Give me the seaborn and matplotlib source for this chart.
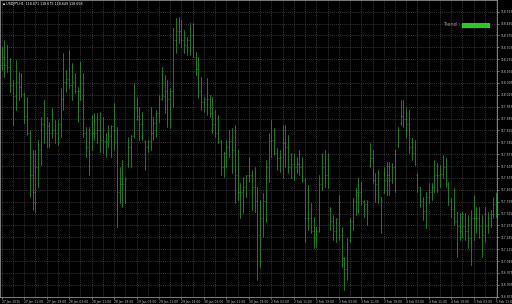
import numpy as np
import pandas as pd
import matplotlib
matplotlib.use("Agg")
import matplotlib.pyplot as plt
import seaborn as sns
from matplotlib.patches import Rectangle

symbol_header = "\u25aa USDJPY,H1  118.671 118.675 118.649 118.658"

highs = [118.309,118.348,118.319,118.240,118.112,118.230,118.162,118.152,118.034,118.014,
117.818,117.700,117.700,117.759,117.896,117.995,117.896,117.867,117.945,117.877,
117.877,118.063,118.270,118.171,118.289,118.211,118.152,118.073,118.220,118.152,
117.837,117.837,117.906,117.916,117.916,117.926,117.896,117.798,117.847,117.847,
117.975,117.837,117.601,117.641,117.543,117.778,117.788,118.093,118.014,117.955,
117.926,117.759,117.759,117.955,117.896,117.936,118.024,118.191,118.142,118.112,
118.063,118.417,118.476,118.486,118.466,118.407,118.368,118.446,118.446,118.279,
118.250,118.132,118.014,118.122,118.024,118.014,117.936,117.906,117.759,117.690,
117.759,117.818,117.828,117.847,117.700,117.503,117.543,117.552,117.660,117.582,
117.601,117.484,117.405,117.444,117.641,117.798,117.877,117.828,117.710,117.700,
117.847,117.847,117.788,117.680,117.680,117.660,117.700,117.660,117.533,117.493,
117.385,117.307,117.248,117.552,117.680,117.700,117.680,117.366,117.317,117.297,
117.434,117.248,117.071,117.179,117.297,117.415,117.474,117.533,117.513,117.405,
117.405,117.739,117.700,117.562,117.582,117.425,117.601,117.631,117.631,117.621,
117.700,117.837,117.995,117.995,117.945,117.936,117.769,117.759,117.562,117.484,
117.425,117.454,117.503,117.503,117.641,117.621,117.611,117.670,117.651,117.513,
117.415,117.474,117.336,117.326,117.336,117.326,117.317,117.346,117.434,117.366,
117.366,117.317,117.366,117.336,117.346,117.425,117.444]

lows = [118.171,118.128,118.162,118.044,117.847,117.936,117.995,118.014,117.857,117.788,
117.425,117.346,117.336,117.484,117.611,117.739,117.719,117.719,117.769,117.739,
117.729,117.778,117.936,118.044,118.063,117.995,118.034,117.867,117.995,117.778,
117.660,117.552,117.700,117.759,117.739,117.690,117.680,117.660,117.719,117.660,
117.700,117.248,117.385,117.366,117.385,117.601,117.601,117.769,117.877,117.759,
117.759,117.582,117.690,117.700,117.759,117.778,117.867,117.995,117.916,117.837,
117.828,117.955,118.270,118.329,118.309,118.270,118.260,118.260,118.250,118.142,
118.004,117.936,117.926,117.906,117.896,117.798,117.778,117.739,117.552,117.543,
117.601,117.660,117.562,117.385,117.405,117.297,117.326,117.425,117.513,117.346,
117.336,116.933,117.012,117.189,117.277,117.513,117.660,117.670,117.582,117.572,
117.533,117.601,117.562,117.533,117.523,117.562,117.552,117.513,117.159,117.228,
117.208,117.120,117.130,117.218,117.464,117.484,117.474,117.228,117.169,117.159,
117.169,117.012,116.874,116.933,117.159,117.228,117.317,117.326,117.376,117.307,
117.258,117.601,117.503,117.395,117.385,117.208,117.444,117.434,117.434,117.503,
117.454,117.719,117.847,117.837,117.778,117.680,117.641,117.611,117.454,117.366,
117.287,117.238,117.385,117.405,117.454,117.454,117.484,117.533,117.484,117.376,
117.307,117.258,117.071,117.169,117.179,117.169,117.120,117.022,117.169,117.208,
117.179,117.071,117.159,117.208,117.248,117.297,117.307]

opens = [118.20,118.25,118.20,118.19,118.08,118.02,118.10,118.07,118.03,117.90,
117.80,117.55,117.45,117.60,117.70,117.85,117.80,117.84,117.80,117.82,
117.80,117.85,118.00,118.10,118.12,118.08,118.10,118.05,118.05,118.00,
117.80,117.72,117.80,117.80,117.80,117.82,117.76,117.75,117.75,117.78,
117.84,117.82,117.45,117.50,117.50,117.62,117.72,117.78,117.95,117.90,
117.85,117.75,117.72,117.75,117.80,117.86,117.92,118.00,118.02,118.05,
118.00,118.05,118.35,118.40,118.40,118.35,118.32,118.35,118.38,118.25,
118.18,118.05,117.98,118.00,118.00,117.92,117.85,117.80,117.75,117.60,
117.68,117.72,117.75,117.70,117.55,117.45,117.45,117.48,117.55,117.55,
117.48,117.40,117.20,117.30,117.40,117.60,117.75,117.76,117.68,117.65,
117.66,117.74,117.72,117.60,117.62,117.60,117.62,117.60,117.52,117.30,
117.30,117.22,117.18,117.22,117.50,117.60,117.55,117.36,117.28,117.22,
117.29,117.20,117.06,117.00,117.17,117.28,117.40,117.45,117.45,117.40,
117.38,117.61,117.65,117.52,117.50,117.42,117.45,117.52,117.55,117.52,
117.60,117.73,117.86,117.90,117.88,117.85,117.72,117.68,117.55,117.48,
117.40,117.34,117.42,117.45,117.48,117.55,117.55,117.56,117.60,117.50,
117.40,117.35,117.28,117.25,117.22,117.25,117.22,117.18,117.30,117.30,
117.30,117.25,117.20,117.25,117.30,117.32,117.38]

closes = [118.25,118.20,118.19,118.08,118.02,118.10,118.07,118.03,117.90,117.80,
117.55,117.45,117.60,117.70,117.85,117.80,117.84,117.80,117.82,117.80,
117.85,118.00,118.10,118.12,118.08,118.10,118.05,118.05,118.00,117.80,
117.72,117.80,117.80,117.80,117.82,117.76,117.75,117.75,117.78,117.84,
117.82,117.45,117.50,117.50,117.53,117.72,117.78,117.95,117.90,117.85,
117.77,117.72,117.75,117.80,117.86,117.92,118.00,118.02,118.05,118.00,
118.05,118.35,118.40,118.40,118.35,118.32,118.35,118.38,118.25,118.18,
118.05,117.98,118.00,118.00,117.92,117.85,117.80,117.75,117.60,117.68,
117.72,117.75,117.70,117.55,117.45,117.45,117.48,117.55,117.55,117.48,
117.40,117.20,117.30,117.40,117.60,117.75,117.76,117.68,117.65,117.66,
117.74,117.72,117.60,117.62,117.60,117.62,117.60,117.52,117.30,117.30,
117.22,117.18,117.22,117.50,117.60,117.55,117.48,117.28,117.22,117.29,
117.20,117.06,117.00,117.15,117.28,117.40,117.45,117.45,117.40,117.38,
117.40,117.65,117.52,117.50,117.42,117.40,117.52,117.55,117.52,117.60,
117.70,117.82,117.90,117.88,117.85,117.72,117.68,117.62,117.48,117.40,
117.34,117.42,117.45,117.48,117.55,117.55,117.56,117.60,117.52,117.40,
117.35,117.28,117.25,117.22,117.25,117.22,117.18,117.30,117.30,117.30,
117.25,117.20,117.25,117.30,117.32,117.38,117.40]

time_labels = ["27 Jan 2015", "27 Jan 11:00", "27 Jan 19:00", "28 Jan 03:00", "28 Jan 11:00",
               "28 Jan 19:00", "29 Jan 03:00", "29 Jan 11:00", "29 Jan 19:00", "30 Jan 03:00",
               "30 Jan 11:00", "30 Jan 19:00", "2 Feb 03:00", "2 Feb 11:00", "2 Feb 19:00",
               "3 Feb 03:00", "3 Feb 11:00", "3 Feb 19:00", "4 Feb 03:00", "4 Feb 11:00",
               "4 Feb 19:00", "5 Feb 03:00", "5 Feb 11:00"]

price_ticks = [116.835, 116.905, 116.975, 117.045, 117.115, 117.185, 117.255, 117.325,
               117.395, 117.465, 117.535, 117.605, 117.675, 117.745, 117.815, 117.885,
               117.955, 118.025, 118.095, 118.165, 118.235, 118.305, 118.375, 118.445, 118.515]

GREEN = "#23902a"
GRID = "#474747"
TEXT = "#c8c8c8"

sns.set_theme(style="dark", rc={
    "axes.facecolor": "black",
    "figure.facecolor": "black",
    "axes.edgecolor": "#909090",
    "text.color": TEXT,
    "xtick.color": TEXT,
    "ytick.color": TEXT,
})
plt.rcParams["font.family"] = ["DejaVu Sans"]

fig = plt.figure(figsize=(5.12, 3.04), dpi=100, facecolor="black")
ax = fig.add_axes([0.0, 7 / 304, 497 / 512, 297 / 304])
ax.set_facecolor("black")

n = len(highs)
bars = np.arange(n)
df = pd.DataFrame({
    "bar": np.concatenate([bars, bars]),
    "price": np.concatenate([np.array(highs), np.array(lows)]),
})
sns.lineplot(data=df, x="bar", y="price", units="bar", estimator=None,
             color=GREEN, linewidth=0.6, ax=ax, legend=False)
ax.plot(bars, opens, linestyle="none", marker=0, markersize=1.0,
        markeredgewidth=0.5, color=GREEN)
ax.plot(bars, closes, linestyle="none", marker=1, markersize=1.0,
        markeredgewidth=0.5, color=GREEN)

ax.set_xlim(-0.6, 176.3)
ax.set_ylim(116.833, 118.584)
ax.set_xlabel("")
ax.set_ylabel("")

ax.yaxis.tick_right()
ax.set_yticks(price_ticks)
ax.set_yticklabels([f"{v:.3f}" for v in price_ticks])
major_x = list(range(0, n, 8))
ax.set_xticks(major_x)
ax.set_xticklabels(time_labels)
ax.set_xticks(list(range(4, n, 8)), minor=True)
for lab in ax.get_xticklabels():
    lab.set_horizontalalignment("left")

ax.tick_params(axis="y", which="major", labelsize=2.2, length=1.5, width=0.4,
               pad=0.8, colors=TEXT, direction="out", right=True, left=False)
ax.tick_params(axis="x", which="major", labelsize=2.2, length=1.5, width=0.4,
               pad=0.6, colors=TEXT, direction="out", bottom=True)
ax.tick_params(axis="x", which="minor", length=0)

ax.set_axisbelow(True)
ax.grid(True, which="major", axis="both", color=GRID, linestyle=(0, (1.5, 1.5)), linewidth=0.5)
ax.grid(True, which="minor", axis="x", color=GRID, linestyle=(0, (1.5, 1.5)), linewidth=0.5)

for sp in ax.spines.values():
    sp.set_color("#909090")
    sp.set_linewidth(0.6)
    sp.set_visible(True)

fig.text(3 / 512, 1 - 4.5 / 304, symbol_header, color="white", fontsize=2.3,
         va="center", ha="left")
fig.text(443 / 512, 1 - 25 / 304, "Trend :", color="#9a9a9a", fontsize=3.6,
         va="center", ha="left")
fig.add_artist(Rectangle((462 / 512, 1 - 28 / 304), 28 / 512, 5 / 304,
                         transform=fig.transFigure, facecolor="#1fd01f",
                         edgecolor="none"))

fig.savefig("out.png", dpi=100, facecolor="black")
